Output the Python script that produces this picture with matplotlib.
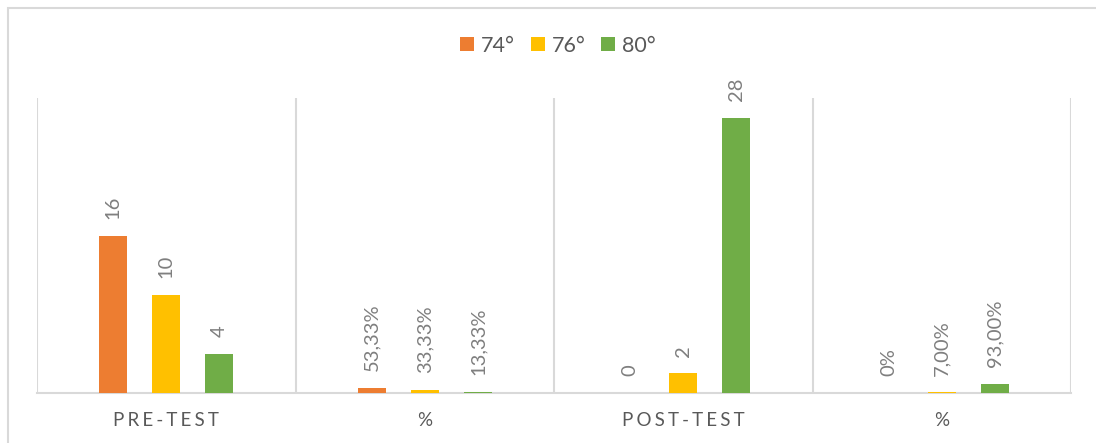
import matplotlib
matplotlib.use('Agg')
import matplotlib.pyplot as plt
import numpy as np
from matplotlib.patches import Rectangle

plt.rcParams['font.family'] = ['Lato', 'DejaVu Sans']

categories = ['PRE-TEST', '%', 'POST-TEST', '%']
is_pct = [False, True, False, True]
series_names = ['74°', '76°', '80°']
vals_74 = [16, 0.5333, 0, 0]
vals_76 = [10, 0.3333, 2, 0.07]
vals_80 = [4, 0.1333, 28, 0.93]
colors = ['#ED7D31', '#FFC000', '#70AD47']

grid_col = '#d9d9d9'
label_col = '#7f7f7f'
text_col = '#595959'


def fmt(v, pct):
    if not pct:
        return '%d' % v
    if v == 0:
        return '0%'
    return ('%.2f%%' % (v * 100)).replace('.', ',')


fig = plt.figure(figsize=(10.96, 4.43), dpi=100)
ax = fig.add_axes([37 / 1096, 50 / 443, 1034 / 1096, 295 / 443])

# outer chart border (only top/left visible in the crop)
fig.patches.append(Rectangle((8 / 1096, -0.1), 1.2, 1.1 - 7.5 / 443,
                             transform=fig.transFigure, fill=False,
                             edgecolor=grid_col, linewidth=1.5))

x = np.arange(len(categories))
width = 0.108
offsets = [-0.205, 0, 0.205]
all_vals = [vals_74, vals_76, vals_80]

for vals, off, col, name in zip(all_vals, offsets, colors, series_names):
    bars = ax.bar(x + off, vals, width=width, color=col, label=name, zorder=3)
    for b, v, p in zip(bars, vals, is_pct):
        ax.annotate(fmt(v, p), (b.get_x() + b.get_width() / 2, b.get_height()),
                    xytext=(0, 12), textcoords='offset points',
                    rotation=90, rotation_mode='anchor', ha='left', va='center',
                    fontsize=14.5, color=label_col)

ax.set_xlim(-0.5, len(categories) - 0.5)
ax.set_ylim(0, 30)
ax.set_yticks([])

# category separators
for xb in np.arange(-0.5, len(categories), 1.0):
    ax.axvline(xb, color=grid_col, linewidth=1.5, zorder=1)

for s in ['top', 'left', 'right']:
    ax.spines[s].set_visible(False)
ax.spines['bottom'].set_color(grid_col)
ax.spines['bottom'].set_linewidth(1.5)

ax.set_xticks(x)
ax.set_xticklabels(['\u2006'.join(c) for c in categories], fontsize=13.5, color=text_col)
ax.tick_params(axis='x', length=0, pad=14)

leg = fig.legend(loc='center', bbox_to_anchor=(558 / 1096, 1 - 45.5 / 443),
                 ncol=3, frameon=False, fontsize=15.5, handlelength=0.65,
                 handleheight=0.65, handletextpad=0.3, columnspacing=0.75)
for t in leg.get_texts():
    t.set_color(text_col)

fig.savefig('out.png', dpi=100)
